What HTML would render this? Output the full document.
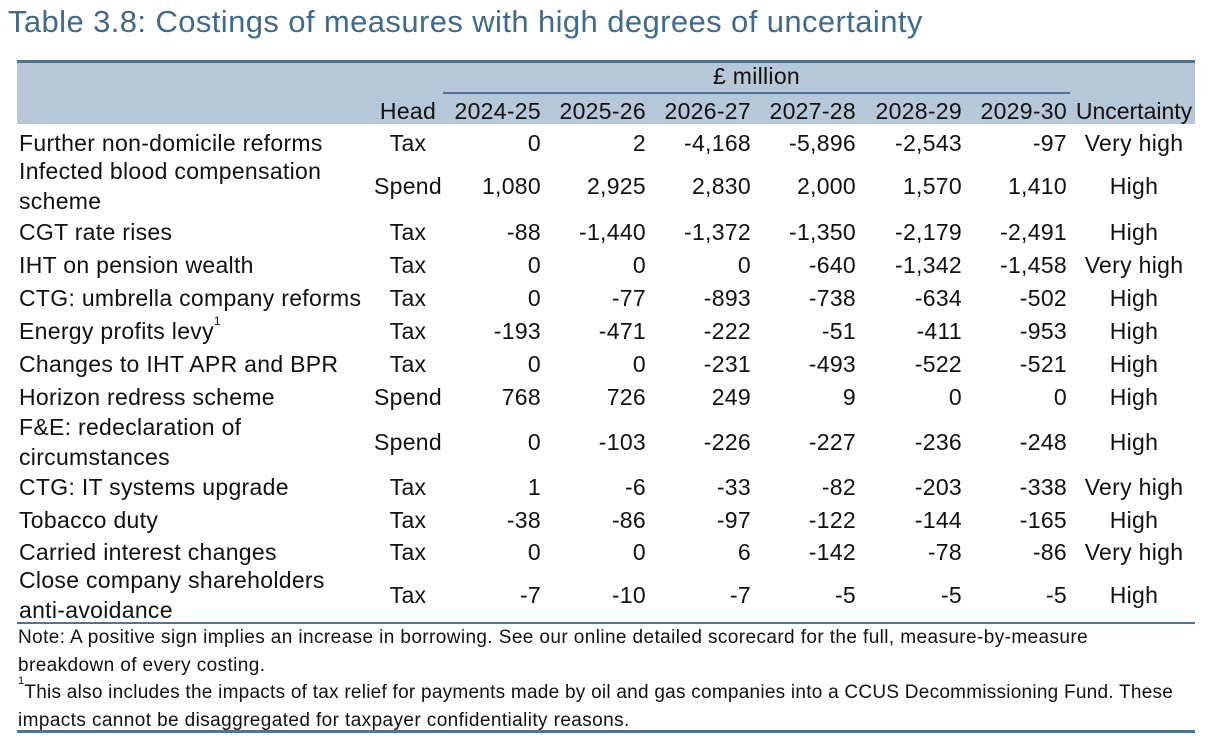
<!DOCTYPE html>
<html><head><meta charset="utf-8"><style>
body{margin:0;width:1211px;height:742px;background:#fff;position:relative;overflow:hidden;font-family:"Liberation Sans",sans-serif;color:#111}
.a{position:absolute;white-space:nowrap;font-size:23px;line-height:24px;letter-spacing:0.3px}
.r{text-align:right}.c{text-align:center}
sup{line-height:0;vertical-align:top;position:relative;top:2px}
</style></head><body>
<div class="a" style="left:8px;top:4px;font-size:31px;line-height:36px;letter-spacing:0.4px;color:#3f6a8c">Table 3.8: Costings of measures with high degrees of uncertainty</div>
<div style="position:absolute;left:17px;top:60px;width:1178px;height:3px;background:#4f7596"></div>
<div style="position:absolute;left:17px;top:63px;width:1178px;height:61px;background:#b6c8d8"></div>
<div style="position:absolute;left:443px;top:92px;width:627px;height:2px;background:#4f7596"></div>
<div class="a c" style="left:443px;width:627px;top:64px">£ million</div>
<div id="t"></div>
<div style="position:absolute;left:17px;top:622px;width:1178px;height:2px;background:#4f7596"></div>
<div class="a" style="left:18px;top:624px;font-size:19px;line-height:27.5px;letter-spacing:0.4px">Note: A positive sign implies an increase in borrowing. See our online detailed scorecard for the full, measure-by-measure<br>breakdown of every costing.<br><span style="letter-spacing:0.25px"><sup style="font-size:11px">1</sup>This also includes the impacts of tax relief for payments made by oil and gas companies into a CCUS Decommissioning Fund. These</span><br>impacts cannot be disaggregated for taxpayer confidentiality reasons.</div>
<div style="position:absolute;left:17px;top:730px;width:1178px;height:3px;background:#4f7596"></div>
<script>
const labels=["Further non-domicile reforms","Infected blood compensation<br>scheme","CGT rate rises","IHT on pension wealth","CTG: umbrella company reforms","Energy profits levy<sup style='font-size:12px'>1</sup>","Changes to IHT APR and BPR","Horizon redress scheme","F&amp;E: redeclaration of<br>circumstances","CTG: IT systems upgrade","Tobacco duty","Carried interest changes","Close company shareholders<br>anti-avoidance"];
const heads=["Tax","Spend","Tax","Tax","Tax","Tax","Tax","Spend","Spend","Tax","Tax","Tax","Tax"];
const vals=[["0","2","-4,168","-5,896","-2,543","-97"],["1,080","2,925","2,830","2,000","1,570","1,410"],["-88","-1,440","-1,372","-1,350","-2,179","-2,491"],["0","0","0","-640","-1,342","-1,458"],["0","-77","-893","-738","-634","-502"],["-193","-471","-222","-51","-411","-953"],["0","0","-231","-493","-522","-521"],["768","726","249","9","0","0"],["0","-103","-226","-227","-236","-248"],["1","-6","-33","-82","-203","-338"],["-38","-86","-97","-122","-144","-165"],["0","0","6","-142","-78","-86"],["-7","-10","-7","-5","-5","-5"]];
const unc=["Very high","High","High","Very high","High","High","High","High","High","Very high","High","Very high","High"];
const years=["2024-25","2025-26","2026-27","2027-28","2028-29","2029-30"];
const yc=[143,186,232,265,298,331,364,397,442,487,520,552,595];
const rx=[541,646,751,856,962,1067];
const t=document.getElementById('t');
function add(html,cls,style,name){const d=document.createElement('div');d.className='a '+cls;d.style.cssText=style;d.innerHTML=html;


t.appendChild(d);}
add('Head','c','left:368px;width:80px;top:99px','header-head');
years.forEach((y,j)=>add(y,'r',`left:${rx[j]-120}px;width:120px;top:99px`,'header-year'));
add('Uncertainty','c','left:1072px;width:124px;top:99px;letter-spacing:0','header-uncertainty');
labels.forEach((l,i)=>{const two=l.includes('<br>');const top=yc[i]-(two?30:12);
add(l,'',`left:19px;top:${top}px;line-height:${two?30:24}px`,'row-label');
add(heads[i],'c',`left:368px;width:80px;top:${yc[i]-12}px`,'row-head');
vals[i].forEach((v,j)=>add(v,'r',`left:${rx[j]-120}px;width:120px;top:${yc[i]-12}px`,'row-value'));
add(unc[i],'c',`left:1072px;width:124px;top:${yc[i]-12}px`,'row-uncertainty');});
</script>
</body></html>
